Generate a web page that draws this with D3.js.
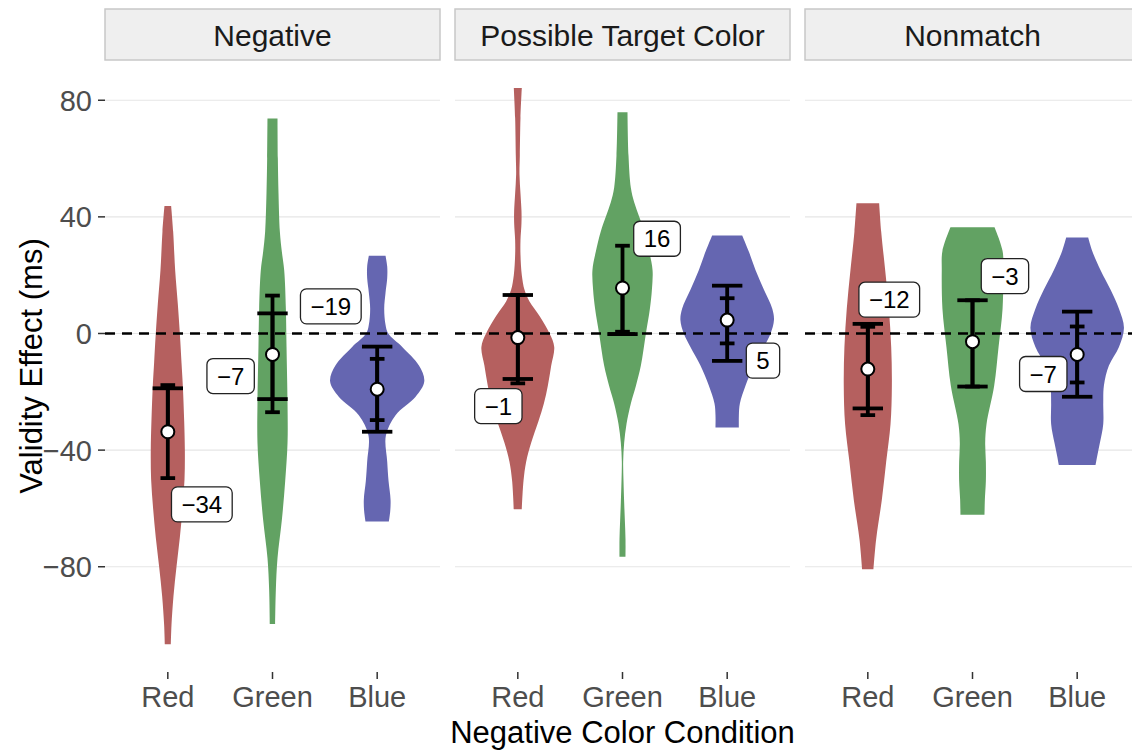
<!DOCTYPE html>
<html>
<head>
<meta charset="utf-8">
<script src="https://cdn.jsdelivr.net/npm/d3@7"></script>
<style>
  body { margin: 0; background: #fff; }
  svg { display: block; font-family: "Liberation Sans", Arial, Helvetica, sans-serif; }
</style>
</head>
<body>
<svg id="chart" width="1132" height="751"></svg>
<script>
// ---- data ----------------------------------------------------------------
const panels = ["Negative", "Possible Target Color", "Nonmatch"];
const conditions = ["Red", "Green", "Blue"];
const conditionColors = ["#b5605f", "#62a263", "#6566b1"];
const yTicks = [-80, -40, 0, 40, 80];

// condition means (ms), one row per panel
const means = [
  [-33.7, -7.2, -19.1],
  [-1.4, 15.6, 4.6],
  [-12.2, -2.8, -7.2]
];

// wide-capped interval (null = no cap at that end)
const wideLo = [
  [null, -22.5, -33.7],
  [-15.6, -0.2, -9.4],
  [-25.7, -18.2, -21.7]
];
const wideHi = [
  [-18.8, 6.9, -4.5],
  [13.2, null, 16.4],
  [3.3, 11.4, 7.5]
];

// narrow-capped interval
const narrowLo = [
  [-49.6, -27.0, -29.7],
  [-17.1, 0.6, -3.4],
  [-28.0, -18.2, -16.8]
];
const narrowHi = [
  [-17.7, 13.0, -8.7],
  [13.2, 30.1, 12.1],
  [2.3, 11.4, 2.4]
];

// violin density profiles: [validity effect (ms), density (arbitrary units)]
const negRed = [[43.7,10],[35,16],[21.7,22],[10,30],[0,36],[-10,41],[-18,45],[-30,49],[-40,51],[-50,50],[-60,44],[-70,36],[-80,26],[-90,17],[-100,11],[-106.6,9]];
const negGreen = [[73.7,15],[60,16],[48,18],[35,22],[28,28],[21.7,35],[8.5,40],[-4.6,42],[-24,45],[-37.5,45],[-50.6,38],[-64,28],[-77,15],[-88,10],[-99.6,8]];
const negBlue = [[26.7,25],[23,30],[19,30],[14,25],[8.5,21],[3,25],[0,33],[-4.6,75],[-11,125],[-16.4,141],[-21.7,115],[-28,55],[-35,26],[-44,30],[-50.6,34],[-57,40],[-61,39],[-64.5,35]];
const ptcRed = [[84.2,12],[74,8],[61,6],[54.6,5],[48,8],[42,11],[38,11],[32,8],[27,8],[20,12],[15,20],[11,35],[6,65],[0,95],[-4.6,109],[-11,100],[-17.8,90],[-24,78],[-30,62],[-37.5,40],[-44,25],[-50.6,17],[-60.3,12]];
const ptcGreen = [[75.9,15],[61,18],[50,25],[45,35],[40,50],[35,65],[28,80],[21.7,90],[15,88],[8.5,82],[0,70],[-11,55],[-18,40],[-24,25],[-31,12],[-37.5,5],[-44,2],[-50.6,3],[-58,5],[-64,7],[-70.6,9],[-76.6,9]];
const ptcBlue = [[33.6,45],[28,65],[21.7,85],[15,110],[8.5,135],[4.6,140],[0,130],[-4.6,110],[-11,80],[-17.8,55],[-24,38],[-28,35],[-32.2,35]];
const nmRed = [[44.7,34],[35,40],[21.7,52],[8.5,63],[-4.6,70],[-17.8,72],[-31,68],[-44,55],[-57,42],[-70.6,25],[-80.9,17]];
const nmGreen = [[36.4,66],[28.3,90],[21.7,92],[8.5,90],[-4.6,78],[-17.8,65],[-31,42],[-37.5,38],[-44,40],[-50.6,40],[-57,37],[-62.2,36]];
const nmBlue = [[32.9,33],[28.3,45],[21.7,70],[15,100],[8.5,125],[2,140],[-4.6,125],[-11,95],[-17.8,80],[-24,78],[-31,78],[-37.5,68],[-42,60],[-45.1,55]];
const violins = [
  [negRed, negGreen, negBlue],
  [ptcRed, ptcGreen, ptcBlue],
  [nmRed, nmGreen, nmBlue]
];

// mean-label placement: horizontal nudge (category steps) and vertical centre (ms)
const labelDx = [
  [0.325, -0.40, -0.443],
  [-0.186, 0.33, 0.342],
  [0.205, 0.31, -0.324]
];
const labelY = [
  [-58.6, -14.6, 9.3],
  [-24.9, 32.5, -9.3],
  [11.6, 19.7, -13.9]
];

// ---- layout --------------------------------------------------------------
const svg = d3.select("#chart");
const panelW = 335, panelGap = 15, firstLeft = 105;
const plotTop = 60, plotBottom = 672;
const stripTop = 9;

const y = d3.scaleLinear().domain([-116.1, 93.8]).range([plotBottom, plotTop]);
const fmt = d3.format(".0f");
const tickFmt = d3.format("d");

const maxDensity = d3.max(violins.flat(), v => d3.max(v, d => d[1]));

// y axis (left of the first panel)
const yAxisG = svg.append("g");
yTicks.forEach(t => {
  yAxisG.append("line")
    .attr("x1", 98).attr("x2", 105)
    .attr("y1", y(t)).attr("y2", y(t))
    .attr("stroke", "#333").attr("stroke-width", 1.5);
  yAxisG.append("text")
    .attr("x", 92).attr("y", y(t)).attr("dy", "0.36em")
    .attr("text-anchor", "end")
    .attr("font-size", 29).attr("fill", "#4d4d4d")
    .text(tickFmt(t));
});

panels.forEach((name, p) => {
  const left = firstLeft + p * (panelW + panelGap);
  const x = d3.scalePoint().domain(conditions).range([left, left + panelW]).padding(0.6);
  const step = x.step();
  const w = d3.scaleLinear().domain([0, maxDensity]).range([0, 0.45 * step]);
  const g = svg.append("g");

  // strip
  g.append("rect")
    .attr("x", left).attr("y", stripTop)
    .attr("width", panelW).attr("height", plotTop - stripTop)
    .attr("fill", "#efefef").attr("stroke", "#c8c8c8").attr("stroke-width", 1.5);
  g.append("text")
    .attr("x", left + panelW / 2).attr("y", 46)
    .attr("text-anchor", "middle")
    .attr("font-size", 30).attr("fill", "#1a1a1a")
    .text(name);

  // gridlines
  yTicks.forEach(t => {
    g.append("line")
      .attr("x1", left).attr("x2", left + panelW)
      .attr("y1", y(t)).attr("y2", y(t))
      .attr("stroke", "#e6e6e6").attr("stroke-width", 1.2);
  });

  // violins
  conditions.forEach((c, i) => {
    const cx = x(c);
    const prof = violins[p][i].slice().sort((a, b) => a[0] - b[0]);
    const area = d3.area()
      .curve(d3.curveCatmullRom.alpha(0.5))
      .y(d => y(d[0]))
      .x0(d => cx - w(d[1]))
      .x1(d => cx + w(d[1]));
    g.append("path")
      .attr("d", area(prof))
      .attr("fill", conditionColors[i]);
  });

  // zero reference line
  g.append("line")
    .attr("x1", left).attr("x2", left + panelW)
    .attr("y1", y(0)).attr("y2", y(0))
    .attr("stroke", "#000").attr("stroke-width", 2.4)
    .attr("stroke-dasharray", "10,7");

  // error bars
  conditions.forEach((c, i) => {
    const cx = x(c);
    const bars = [
      { lo: wideLo[p][i], hi: wideHi[p][i], half: 0.145 * step },
      { lo: narrowLo[p][i], hi: narrowHi[p][i], half: 0.07 * step }
    ];
    bars.forEach(b => {
      const ends = [b.lo, b.hi, means[p][i]].filter(v => v !== null);
      g.append("line")
        .attr("x1", cx).attr("x2", cx)
        .attr("y1", y(d3.min(ends))).attr("y2", y(d3.max(ends)))
        .attr("stroke", "#000").attr("stroke-width", 3.8);
      [b.lo, b.hi].forEach(v => {
        if (v === null) return;
        g.append("line")
          .attr("x1", cx - b.half).attr("x2", cx + b.half)
          .attr("y1", y(v)).attr("y2", y(v))
          .attr("stroke", "#000").attr("stroke-width", 3.8);
      });
    });
    g.append("circle")
      .attr("cx", cx).attr("cy", y(means[p][i]))
      .attr("r", 6.5)
      .attr("fill", "#fff").attr("stroke", "#000").attr("stroke-width", 2);
  });

  // mean labels
  conditions.forEach((c, i) => {
    const lx = x(c) + labelDx[p][i] * step;
    const ly = y(labelY[p][i]);
    const lg = g.append("g").attr("transform", `translate(${lx},${ly})`);
    const rect = lg.append("rect");
    const txt = lg.append("text")
      .attr("text-anchor", "middle").attr("dy", "0.36em")
      .attr("font-size", 24).attr("fill", "#000")
      .text(fmt(means[p][i]));
    const tw = txt.node().getComputedTextLength();
    const bw = tw + 20, bh = 35;
    rect.attr("x", -bw / 2).attr("y", -bh / 2)
      .attr("width", bw).attr("height", bh)
      .attr("rx", 6).attr("ry", 6)
      .attr("fill", "#fff").attr("stroke", "#222").attr("stroke-width", 1.3);
  });

  // x axis ticks and labels
  conditions.forEach(c => {
    g.append("line")
      .attr("x1", x(c)).attr("x2", x(c))
      .attr("y1", plotBottom).attr("y2", plotBottom + 7)
      .attr("stroke", "#333").attr("stroke-width", 1.5);
    g.append("text")
      .attr("x", x(c)).attr("y", 707)
      .attr("text-anchor", "middle")
      .attr("font-size", 29).attr("fill", "#4d4d4d")
      .text(c);
  });
});

// axis titles
svg.append("text")
  .attr("x", firstLeft + (3 * panelW + 2 * panelGap) / 2).attr("y", 743)
  .attr("text-anchor", "middle")
  .attr("font-size", 31).attr("fill", "#000")
  .text("Negative Color Condition");
svg.append("text")
  .attr("transform", `translate(31,${(plotTop + plotBottom) / 2}) rotate(-90)`)
  .attr("text-anchor", "middle").attr("dy", "0.36em")
  .attr("font-size", 31).attr("fill", "#000")
  .text("Validity Effect (ms)");
</script>
</body>
</html>
